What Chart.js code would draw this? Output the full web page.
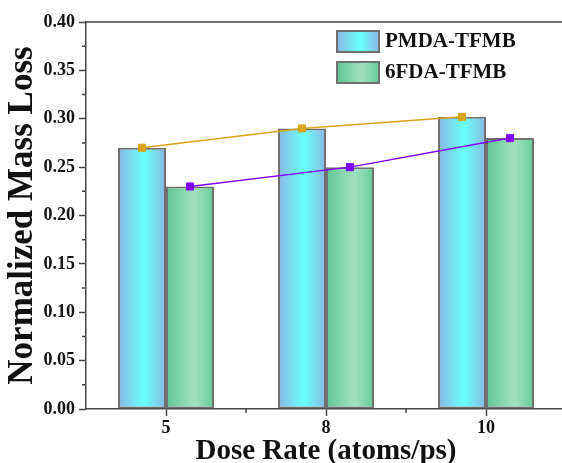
<!DOCTYPE html>
<html>
<head>
<meta charset="utf-8">
<script src="https://cdn.jsdelivr.net/npm/chart.js@4.4.0/dist/chart.umd.min.js"></script>
<style>
  html, body { margin: 0; padding: 0; background: #fff; overflow: hidden; }
  canvas { display: block; }
</style>
</head>
<body>
<canvas id="chart" width="572" height="463"></canvas>
<script>
const categories = ['5', '8', '10'];
const pmdaValues = [0.27, 0.29, 0.302];
const fdaValues = [0.23, 0.25, 0.28];
const seriesNames = ['PMDA-TFMB', '6FDA-TFMB'];

const serif = '"Liberation Serif", "Times New Roman", serif';

// edge / centre / edge colours for the bar gradients
const barStops = {
    'PMDA-TFMB': [[0, 'rgb(138,182,224)'], [0.55, 'rgb(104,255,255)'], [1, 'rgb(138,182,224)']],
    '6FDA-TFMB': [[0, 'rgb(96,200,148)'], [0.6, 'rgb(160,224,192)'], [1, 'rgb(104,203,152)']]
};

function makeGradient(ctx, left, right, stops) {
    const g = ctx.createLinearGradient(left, 0, right, 0);
    stops.forEach(s => g.addColorStop(s[0], s[1]));
    return g;
}

// bars get a horizontal gradient, trend lines sit on the bar centres
const barDecor = {
    id: 'barDecor',
    afterDatasetsUpdate(chart) {
        const bars = {};
        chart.data.datasets.forEach((ds, i) => {
            if (ds.type === 'bar') bars[ds.label] = chart.getDatasetMeta(i);
        });
        chart.data.datasets.forEach((ds, i) => {
            if (ds.type !== 'line') return;
            const meta = chart.getDatasetMeta(i);
            const barMeta = bars[ds.link];
            meta.data.forEach((pt, j) => { pt.x = barMeta.data[j].x; });
            meta.dataset._path = undefined;
        });
    },
    beforeDatasetsDraw(chart) {
        const ctx = chart.ctx;
        chart.data.datasets.forEach((ds, i) => {
            if (ds.type !== 'bar') return;
            chart.getDatasetMeta(i).data.forEach(el => {
                el.options.backgroundColor = makeGradient(ctx, el.x - el.width / 2, el.x + el.width / 2, barStops[ds.label]);
            });
        });
    },
    afterDraw(chart) {
        const ctx = chart.ctx;
        const area = chart.chartArea;
        const x = chart.scales.x, y = chart.scales.y;
        ctx.save();
        ctx.strokeStyle = '#444';
        ctx.lineWidth = 1.5;
        ctx.beginPath();
        ctx.moveTo(area.left, area.top);
        ctx.lineTo(area.right, area.top);
        // minor ticks
        for (let i = 0; i < y.ticks.length - 1; i++) {
            const p = y.getPixelForValue((y.ticks[i].value + y.ticks[i + 1].value) / 2);
            ctx.moveTo(area.left - 4, p);
            ctx.lineTo(area.left, p);
        }
        for (let i = 0; i < categories.length - 1; i++) {
            const p = (x.getPixelForValue(i) + x.getPixelForValue(i + 1)) / 2;
            ctx.moveTo(p, area.bottom);
            ctx.lineTo(p, area.bottom + 4);
        }
        ctx.stroke();

        // legend
        const bx = area.left + 251, by = area.top + 9;
        ctx.font = 'bold 21px ' + serif;
        ctx.textBaseline = 'middle';
        seriesNames.forEach((name, k) => {
            const top = by + k * 31;
            ctx.fillStyle = makeGradient(ctx, bx, bx + 42, barStops[name]);
            ctx.fillRect(bx, top, 42, 21);
            ctx.strokeStyle = '#707070';
            ctx.lineWidth = 2;
            ctx.strokeRect(bx, top, 42, 21);
            ctx.fillStyle = '#111';
            ctx.fillText(name, bx + 48, top + 11);
        });
        ctx.restore();
    }
};

const tickFont = { family: serif, size: 18, weight: 'bold' };

new Chart(document.getElementById('chart'), {
    data: {
        labels: categories,
        datasets: [
            {
                type: 'line',
                label: 'PMDA-TFMB trend',
                link: 'PMDA-TFMB',
                data: pmdaValues,
                borderColor: 'rgb(216,164,26)',
                backgroundColor: 'rgb(216,164,26)',
                borderWidth: 1.5,
                pointStyle: 'rect',
                pointRadius: 5,
                pointBorderWidth: 1,
                tension: 0,
                order: 0
            },
            {
                type: 'line',
                label: '6FDA-TFMB trend',
                link: '6FDA-TFMB',
                data: fdaValues,
                borderColor: 'rgb(128,0,255)',
                backgroundColor: 'rgb(128,0,255)',
                borderWidth: 1.5,
                pointStyle: 'rect',
                pointRadius: 5,
                pointBorderWidth: 1,
                tension: 0,
                order: 0
            },
            {
                type: 'bar',
                label: seriesNames[0],
                data: pmdaValues,
                backgroundColor: () => 'rgb(104,255,255)',
                borderColor: '#707070',
                borderWidth: 2,
                borderSkipped: false,
                categoryPercentage: 0.6,
                barPercentage: 1,
                order: 1
            },
            {
                type: 'bar',
                label: seriesNames[1],
                data: fdaValues,
                backgroundColor: () => 'rgb(160,224,192)',
                borderColor: '#707070',
                borderWidth: 2,
                borderSkipped: false,
                categoryPercentage: 0.6,
                barPercentage: 1,
                order: 1
            }
        ]
    },
    options: {
        responsive: false,
        animation: false,
        layout: { padding: { top: 22, right: 3, left: 0, bottom: 0 } },
        plugins: {
            legend: { display: false },
            tooltip: { enabled: false }
        },
        scales: {
            x: {
                afterFit: s => { s.height = 54; },
                grid: { offset: false, drawOnChartArea: false, tickLength: 7, tickColor: '#444', tickWidth: 1.5 },
                border: { color: '#444', width: 1.5 },
                ticks: { color: '#111', font: tickFont, padding: 2 },
                title: {
                    display: true,
                    text: 'Dose Rate (atoms/ps)',
                    color: '#111',
                    font: { family: serif, size: 29, weight: 'bold', lineHeight: 0.8 },
                    padding: 0
                }
            },
            y: {
                min: 0,
                max: 0.4,
                afterFit: s => { s.width = 86; },
                grid: { drawOnChartArea: false, tickLength: 7, tickColor: '#444', tickWidth: 1.5 },
                border: { color: '#444', width: 1.5 },
                ticks: {
                    stepSize: 0.05,
                    color: '#111',
                    font: tickFont,
                    padding: 4,
                    callback: v => v.toFixed(2)
                },
                title: {
                    display: true,
                    text: 'Normalized Mass Loss',
                    color: '#111',
                    font: { family: serif, size: 35, weight: 'bold', lineHeight: 1 },
                    padding: { top: 5 }
                }
            }
        }
    },
    plugins: [barDecor]
});
</script>
</body>
</html>
